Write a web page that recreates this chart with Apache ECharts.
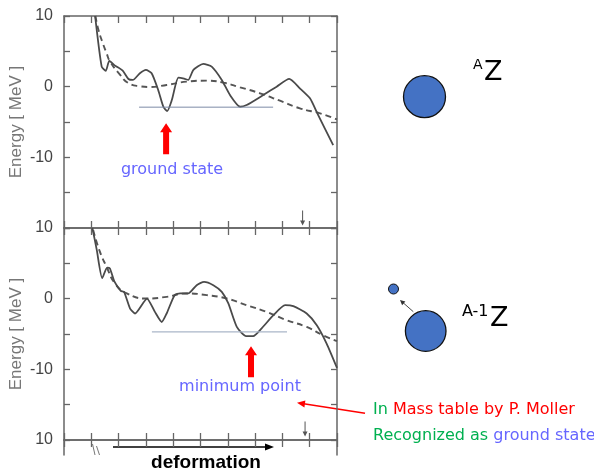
<!DOCTYPE html>
<html>
<head>
<meta charset="utf-8">
<script src="https://cdn.jsdelivr.net/npm/echarts@6/dist/echarts.min.js"></script>
<style>html,body{margin:0;padding:0;background:#fff;}#main{width:594px;height:474px;}</style>
</head>
<body>
<div id="main"></div>
<script>
// ---- data (x: deformation units 0..10, y: energy in MeV) ----
const topSolid = [[1.14,10],[1.38,2.84],[1.53,2.23],[1.66,3.65],[1.87,2.98],[2.15,2.27],[2.36,1.09],[2.52,0.95],[2.78,1.90],[3.00,2.37],[3.21,1.90],[3.45,-0.47],[3.64,-2.84],[3.78,-3.45],[3.95,-1.89],[4.19,1.28],[4.40,1.14],[4.55,0.95],[4.74,2.37],[5.10,3.22],[5.41,2.84],[5.78,0.95],[6.08,-1.18],[6.45,-2.84],[6.69,-2.60],[7.30,-1.18],[7.79,0],[8.25,1.09],[8.64,-0.23],[9.01,-1.65],[9.28,-3.78],[9.86,-8.28]];
const topDashed = [[1.15,10],[1.25,8.2],[1.42,6.16],[1.56,4.74],[1.68,3.6],[2.05,1.7],[2.36,0.5],[2.78,0.05],[3.15,-0.05],[3.76,0.24],[4.49,0.71],[5.23,0.85],[5.84,0.57],[6.45,-0.09],[7.18,-0.94],[7.91,-1.99],[8.64,-3.07],[9.38,-3.78],[10,-4.63]];
const topLevel = [[2.75,-2.9],[7.66,-2.9]];
const midSolid = [[1.04,10],[1.20,6.9],[1.40,2.9],[1.58,4.4],[1.68,4.28],[1.85,2.4],[2.08,1.1],[2.20,0.96],[2.42,-1.4],[2.60,-2.1],[3.04,0.02],[3.33,-1.87],[3.58,-3.3],[3.76,-2.1],[4.05,0.5],[4.25,0.74],[4.55,0.74],[4.86,1.91],[5.13,2.38],[5.47,1.91],[5.78,0.96],[6.02,-0.68],[6.33,-4.0],[6.67,-5.3],[6.93,-5.3],[7.24,-4.2],[7.67,-2.34],[8.10,-0.92],[8.40,-1.06],[8.89,-2.1],[9.26,-3.76],[9.62,-6.35],[10,-9.8]];
const midDashed = [[1.07,9.7],[1.29,6.9],[1.56,4.5],[1.87,2.15],[2.30,0.74],[3.03,0.02],[3.76,0.26],[4.49,0.74],[5.23,0.5],[5.96,0.02],[6.69,-0.92],[7.42,-1.87],[8.16,-3.05],[8.89,-4.0],[9.50,-5.2],[10,-6.0]];
const midLevel = [[3.22,-4.7],[8.17,-4.7]];
const bigArrows = [[3.74,-7.36]];
const bigArrows2 = [[6.85,-8.94]];
const smallArrowTop = [[8.74,-18.58]];
const smallArrowMid = [[8.83,-18.44]];
const yTickLabels = ['10','0','-10'];
const yTitle = 'Energy [ MeV ]';

const AX = '#666';
const chart = echarts.init(document.getElementById('main'));

function xAx(gi, pos, showLine) {
  return {type:'value', gridIndex:gi, position:pos, min:0, max:10, interval:1,
    axisLine:{show:showLine, onZero:false, lineStyle:{color:AX, width:1.5}},
    axisTick:{show:showLine, inside:true, length:7, lineStyle:{color:AX, width:1.3}},
    axisLabel:{show:false}, splitLine:{show:false}};
}
function yLeft(gi, min, max, interval, labels, name, ticks) {
  return {type:'value', gridIndex:gi, position:'left', min:min, max:max, interval:interval,
    axisLine:{show:true, onZero:false, lineStyle:{color:AX, width:1.5}},
    axisTick:{show:ticks, inside:true, length:6, lineStyle:{color:AX, width:1.3}},
    axisLabel:{show:true, margin:11, color:'#444', fontFamily:'Liberation Sans', fontSize:16,
      formatter: v => labels.indexOf(String(v)) >= 0 ? String(v) : ''},
    splitLine:{show:false},
    name: name, nameLocation:'middle', nameRotate:90, nameGap:39,
    nameTextStyle:{color:'#777', fontFamily:'Liberation Sans', fontSize:17}};
}
function yRight(gi, min, max, interval, ticks) {
  return {type:'value', gridIndex:gi, position:'right', min:min, max:max, interval:interval,
    axisLine:{show:true, onZero:false, lineStyle:{color:AX, width:1.5}},
    axisTick:{show:ticks, inside:true, length:6, lineStyle:{color:AX, width:1.3}},
    axisLabel:{show:false}, splitLine:{show:false}};
}

const solidStyle = {color:'#4a4a4a', width:1.8};
const dashStyle = {color:'#555', width:1.9, type:[6,4]};
const upArrow = 'path://M6,0 L12,9 L9,9 L9,31 L3,31 L3,9 L0,9 Z';
const downArrow = 'path://M2,0 L3,0 L3,10 L5,10 L2.5,15 L0,10 L2,10 Z';

function lineSeries(x, y, data, style, smooth) {
  return {type:'line', xAxisIndex:x, yAxisIndex:y, data:data, showSymbol:false, smooth:smooth,
    lineStyle:style, silent:true, animation:false, z:3};
}
function markSeries(x, y, data, symbol, size, color) {
  return {type:'scatter', xAxisIndex:x, yAxisIndex:y, data:data, symbol:symbol, symbolSize:size,
    itemStyle:{color:color, opacity:1}, silent:true, animation:false, z:5};
}

const option = {
  backgroundColor:'#fff',
  animation:false,
  grid:[
    {left:64, top:16, width:273, height:212},
    {left:64, top:228, width:273, height:212},
    {left:64, top:440, width:273, height:15}
  ],
  xAxis:[
    xAx(0,'bottom',true), xAx(0,'top',true),
    xAx(1,'bottom',true), xAx(1,'top',true),
    xAx(2,'bottom',false), xAx(2,'top',true)
  ],
  yAxis:[
    yLeft(0,-20,10,5,yTickLabels,yTitle,true), yRight(0,-20,10,5,true),
    yLeft(1,-20,10,5,yTickLabels,yTitle,true), yRight(1,-20,10,5,true),
    yLeft(2,8,10,2,['10'],'',false), yRight(2,8,10,2,false)
  ],
  series:[
    lineSeries(0,0,topDashed,dashStyle,0.5),
    lineSeries(0,0,topSolid,solidStyle,0.2),
    lineSeries(0,0,topLevel,{color:'#7d8aa6', width:1},false),
    lineSeries(2,2,midDashed,dashStyle,0.5),
    lineSeries(2,2,midSolid,solidStyle,0.2),
    lineSeries(2,2,midLevel,{color:'#aab6c8', width:1.2},false),
    markSeries(0,0,bigArrows,upArrow,[12,31],'#ff0000'),
    markSeries(2,2,bigArrows2,upArrow,[12,31],'#ff0000'),
    markSeries(0,0,smallArrowTop,downArrow,[5,15],'#555'),
    markSeries(2,2,smallArrowMid,downArrow,[5,15],'#555')
  ],
  graphic:[
    {type:'text', x:172, y:170, style:{text:'ground state', fill:'#6666ff', font:'16px "DejaVu Sans"', textAlign:'center', textVerticalAlign:'middle'}},
    {type:'text', x:240, y:387, style:{text:'minimum point', fill:'#6666ff', font:'16px "DejaVu Sans"', textAlign:'center', textVerticalAlign:'middle'}},
    {type:'text', x:373, y:410, style:{text:'{g|In} {r|Mass table by P. Moller}', font:'16px "DejaVu Sans"', textVerticalAlign:'middle',
      rich:{g:{fill:'#00b050', font:'16px "DejaVu Sans"'}, r:{fill:'#ff0000', font:'16px "DejaVu Sans"'}}}},
    {type:'text', x:373, y:436, style:{text:'{g|Recognized as} {b|ground state}', font:'16px "DejaVu Sans"', textVerticalAlign:'middle',
      rich:{g:{fill:'#00b050', font:'16px "DejaVu Sans"'}, b:{fill:'#6666ff', font:'16px "DejaVu Sans"'}}}},
    {type:'line', shape:{x1:365, y1:413.3, x2:302, y2:403.6}, style:{stroke:'#ff0000', lineWidth:1.5}},
    {type:'polygon', shape:{points:[[297,402.7],[305.4,400.4],[304.4,407.4]]}, style:{fill:'#ff0000'}},
    {type:'line', shape:{x1:113, y1:447, x2:267, y2:447}, style:{stroke:'#000', lineWidth:1.6}},
    {type:'polygon', shape:{points:[[274,447],[265,443.5],[265,450.5]]}, style:{fill:'#000'}},
    {type:'text', x:206, y:463, style:{text:'deformation', fill:'#000', font:'bold 19px "Liberation Sans"', textAlign:'center', textVerticalAlign:'middle'}},
    {type:'line', shape:{x1:92.5, y1:444, x2:95, y2:455}, style:{stroke:'#777', lineWidth:1}},
    {type:'line', shape:{x1:96.5, y1:446, x2:99.5, y2:455}, style:{stroke:'#777', lineWidth:1}},
    {type:'circle', shape:{cx:424.5, cy:96.7, r:21}, style:{fill:'#4472c4', stroke:'#111', lineWidth:1.3}},
    {type:'text', x:473, y:65, style:{text:'A', fill:'#000', font:'14px "DejaVu Sans"', textVerticalAlign:'middle'}},
    {type:'text', x:484, y:73, style:{text:'Z', fill:'#000', font:'27px "DejaVu Sans"', textVerticalAlign:'middle'}},
    {type:'circle', shape:{cx:425.7, cy:331, r:20.3}, style:{fill:'#4472c4', stroke:'#111', lineWidth:1.3}},
    {type:'circle', shape:{cx:393.5, cy:289, r:5}, style:{fill:'#4472c4', stroke:'#111', lineWidth:1}},
    {type:'line', shape:{x1:413.3, y1:311.7, x2:402.5, y2:302.2}, style:{stroke:'#333', lineWidth:0.9}},
    {type:'polygon', shape:{points:[[400,300],[405.4,301.4],[402.1,305.2]]}, style:{fill:'#333'}},
    {type:'text', x:462, y:312, style:{text:'A-1', fill:'#000', font:'16px "DejaVu Sans"', textVerticalAlign:'middle'}},
    {type:'text', x:490, y:319, style:{text:'Z', fill:'#000', font:'27px "DejaVu Sans"', textVerticalAlign:'middle'}}
  ]
};
chart.setOption(option);
</script>
</body>
</html>
